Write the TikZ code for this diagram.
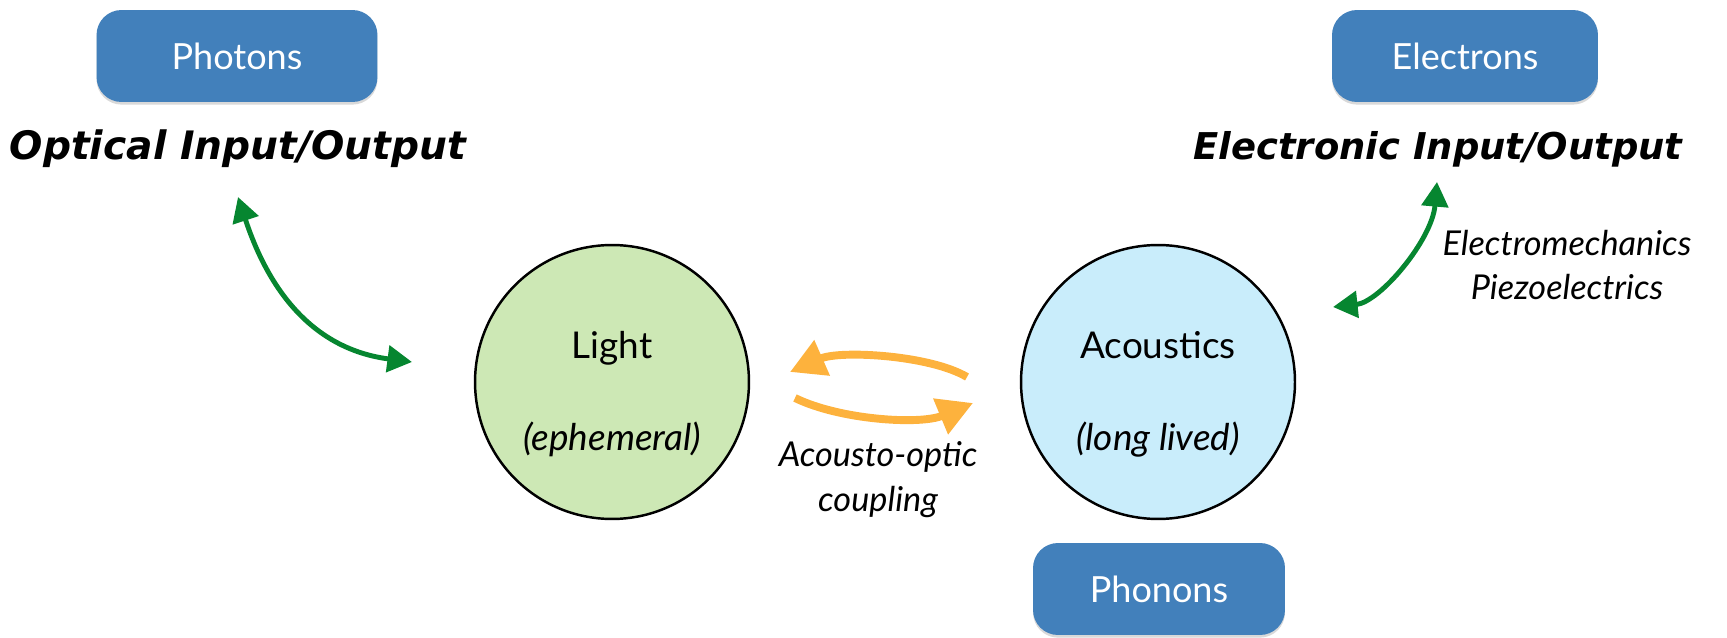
\documentclass[tikz,border=0pt]{standalone}
\usepackage{fontspec}
\setmainfont{Lato}
\newfontfamily\headfont{DejaVu Sans}
\usepackage{tikz}
\usetikzlibrary{arrows.meta, positioning, calc, shadows}
\definecolor{boxblue}{RGB}{66,128,187}
\definecolor{lightfill}{RGB}{205,232,181}
\definecolor{acoufill}{RGB}{201,237,251}
\definecolor{linkgreen}{RGB}{6,134,48}
\definecolor{linkamber}{RGB}{253,178,61}

\begin{document}
\begin{tikzpicture}[x=0.02cm, y=-0.02cm,
  particle/.style={rounded corners=0.5cm, fill=boxblue, text=white,
    minimum height=1.84cm, font=\fontsize{20.5}{24}\selectfont,
    drop shadow={opacity=0.3, shadow xshift=0pt, shadow yshift=-1.5pt}},
  ioname/.style={inner sep=0pt, anchor=base, font=\headfont\fontsize{21}{25}\selectfont\bfseries\itshape},
  medium/.style={circle, draw=black, line width=1.4pt, minimum size=5.48cm, inner sep=0pt},
  mlabel/.style={inner sep=0pt, anchor=base, font=\fontsize{21}{25}\selectfont},
  note/.style={align=center, font=\fontsize{19.5}{25.5}\selectfont\itshape},
  iolink/.style={{Triangle[length=14pt, width=15pt]}-{Triangle[length=14pt, width=15pt]},
    line width=2.8pt, linkgreen},
  aolink/.style={-{Triangle[length=20pt, width=21pt]}, line width=4.5pt, linkamber}]
  \useasboundingbox (0,0) rectangle (1727,638);

  % Particle boxes
  \foreach \nm/\x/\y/\w/\txt in {photons/237/56/5.62/Photons,
      electrons/1465/56/5.32/Electrons, phonons/1159/589/5.04/Phonons}{
    \node[particle, minimum width=\w cm] (\nm) at (\x,\y) {\txt};
  }
  \node[ioname, font=\headfont\fontsize{22.3}{26}\selectfont\bfseries\itshape] (optio) at (238,160) {Optical Input/Output};
  \node[ioname] (elecio) at (1438,160) {Electronic Input/Output};

  % The two media
  \node[medium, fill=lightfill] (light) at (612,382) {};
  \node[medium, fill=acoufill] (acou) at (1158,382) {};
  \node[mlabel] (lightname) at ($(light.center)+(0,-24)$) {Light};
  \node[mlabel, font=\fontsize{21}{25}\selectfont\itshape] (lightlife) at ($(light.center)+(0,68)$) {(ephemeral)};
  \node[mlabel] (acouname) at ($(acou.center)+(0,-24)$) {Acoustics};
  \node[mlabel, font=\fontsize{21}{25}\selectfont\itshape] (acoulife) at ($(acou.center)+(0,68)$) {(long lived)};

  \node[note] (piezo) at (1567,265) {Electromechanics\\Piezoelectrics};
  \node[note] (aocoup) at (878,480) {Acousto-optic\\coupling};

  % Input/output links
  \coordinate (optTip) at (238,197);
  \coordinate (lightTip) at (412,362);
  \coordinate (elecTip) at (1437,182);
  \coordinate (acouTip) at (1333,307);
  \draw[iolink] (optTip) .. controls +(34,103) and +(-92,-12) .. (lightTip);
  \draw[iolink] (elecTip) .. controls +(-5,58) and +(47,-5) .. (acouTip);

  % Acousto-optic coupling, both ways
  \coordinate (backTail) at (967,377);
  \coordinate (backTip) at (790,372);
  \coordinate (fwdTail) at (795,398);
  \coordinate (fwdTip) at (973,403);
  \draw[aolink] (backTail) .. controls +(-37,-22) and +(50,-22) .. (backTip);
  \draw[aolink] (fwdTail) .. controls +(45,22) and +(-53,22) .. (fwdTip);
\end{tikzpicture}
\end{document}
